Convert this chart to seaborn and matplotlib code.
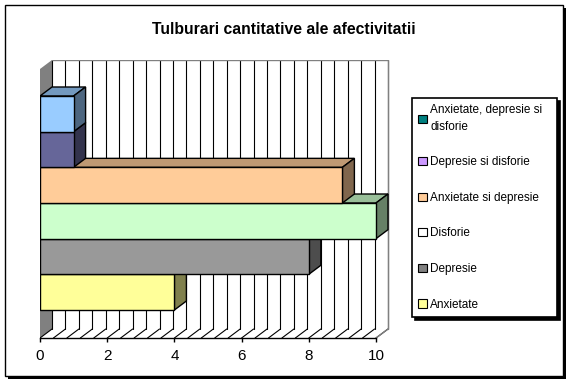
import matplotlib
matplotlib.use("Agg")
import matplotlib.pyplot as plt
from matplotlib.patches import Polygon, Rectangle, Patch
import numpy as np
import seaborn as sns

# data (top to bottom as drawn)
categories = ["Anxietate, depresie si disforie", "Depresie si disforie",
              "Anxietate si depresie", "Disforie", "Depresie", "Anxietate"]
values = [1, 1, 9, 10, 8, 4]
bar_colors = ["#99CCFF", "#666699", "#FFCC99", "#CCFFCC", "#999999", "#FFFF99"]
legend_colors = ["#008080", "#CC99FF", "#FFCC99", "#FFFFFF", "#808080", "#FFFF99"]
legend_labels = ["Anxietate, depresie si\ndisforie", "Depresie si disforie",
                 "Anxietate si depresie", "Disforie", "Depresie", "Anxietate"]
xticks = [0, 2, 4, 6, 8, 10]

sns.set_style("white")
plt.rcParams["font.family"] = ["Liberation Sans", "DejaVu Sans"]
plt.rcParams["text.color"] = "black"
plt.rcParams["xtick.color"] = "black"

W, H = 572, 385
fig = plt.figure(figsize=(W / 100, H / 100), dpi=100)

# outer frame with shadow
fig.patches.append(Rectangle((8 / W, 6 / H), 558 / W, 371 / H, transform=fig.transFigure,
                             facecolor="black", edgecolor="none", zorder=-3))
fig.patches.append(Rectangle((5 / W, 9 / H), 558 / W, 371 / H, transform=fig.transFigure,
                             facecolor="white", edgecolor="black", linewidth=1, zorder=-2))

ax = fig.add_axes([40 / W, 47 / H, 352.8 / W, 278 / H])
ax.set_facecolor("none")

sns.barplot(x=values, y=categories, hue=categories, palette=bar_colors, orient="h",
            width=1.0, saturation=1, legend=False, edgecolor="black", linewidth=1, ax=ax)

xmax = 10.5
ybot, ytop = 6.285, -1.509
dx, dy = 0.357, 0.252
ax.set_xlim(0, xmax)
ax.set_ylim(ybot, ytop)

# walls and floor
floor_back = ybot - dy
ax.add_patch(Polygon([(0, ybot), (dx, floor_back), (dx, ytop), (0, ytop + dy)],
                     closed=True, facecolor="#808080", edgecolor="none", zorder=0.5))
grid = np.arange(0, 10.0001, 0.4)
for g in grid:
    ax.plot([g + dx, g + dx], [floor_back, ytop], color="black", lw=0.8, zorder=1)
    ax.plot([g, g + dx], [ybot, floor_back], color="black", lw=0.8, zorder=1)
ax.plot([dx, 10 + dx, 10 + dx], [ytop, ytop, floor_back], color="#808080", lw=1, zorder=1.1)
ax.plot([10, 10 + dx], [ybot, floor_back], color="#808080", lw=1, zorder=1.1)

def shade(c, f):
    r, g, b = matplotlib.colors.to_rgb(c)
    return (r * f, g * f, b * f)

# 3D faces for each bar
for i, p in enumerate(ax.patches[:len(values)]):
    x0, w = p.get_x(), p.get_width()
    y0, h = p.get_y(), p.get_height()
    y_hi, y_lo = min(y0, y0 + h), max(y0, y0 + h)
    x1 = x0 + w
    fc = p.get_facecolor()
    z = 20 - 2 * i
    p.set_zorder(z + 1)
    top = Polygon([(x0, y_hi), (x0 + dx, y_hi - dy), (x1 + dx, y_hi - dy), (x1, y_hi)],
                  closed=True, facecolor=shade(fc, 0.75), edgecolor="black", lw=1, zorder=z)
    side = Polygon([(x1, y_hi), (x1 + dx, y_hi - dy), (x1 + dx, y_lo - dy), (x1, y_lo)],
                   closed=True, facecolor=shade(fc, 0.5), edgecolor="black", lw=1, zorder=z)
    ax.add_patch(top)
    ax.add_patch(side)

for s in ["top", "right", "left"]:
    ax.spines[s].set_visible(False)
ax.spines["bottom"].set_bounds(0, 10)
ax.spines["bottom"].set_color("black")
ax.spines["bottom"].set_linewidth(1)
ax.spines["bottom"].set_zorder(30)
ax.set_yticks([])
ax.set_xticks(xticks)
ax.set_xticklabels([str(t) for t in xticks], fontsize=11)
ax.tick_params(axis="x", direction="out", length=3, width=1, color="black", pad=5,
               bottom=True)
ax.set_xlabel("")
ax.set_ylabel("")

fig.text(284 / W, 1 - 30 / H, "Tulburari cantitative ale afectivitatii",
         ha="center", va="center", fontsize=11.3, fontweight="bold")

handles = [Patch(facecolor=c, edgecolor="black", linewidth=0.8) for c in legend_colors]
leg = fig.legend(handles, legend_labels, loc="upper left",
                 bbox_to_anchor=(412 / W, 1 - 98 / H, 145 / W, 0.0), mode="expand",
                 fontsize=8.5, labelspacing=2.0, handlelength=0.7, handleheight=0.7,
                 handletextpad=0.3, borderpad=0.55, borderaxespad=0, fancybox=False,
                 edgecolor="black", shadow={"color": "black", "alpha": 1})
leg.get_frame().set_linewidth(1.2)
for t in leg.get_texts():
    t.set_linespacing(1.45)

fig.savefig("out.png", dpi=100)
